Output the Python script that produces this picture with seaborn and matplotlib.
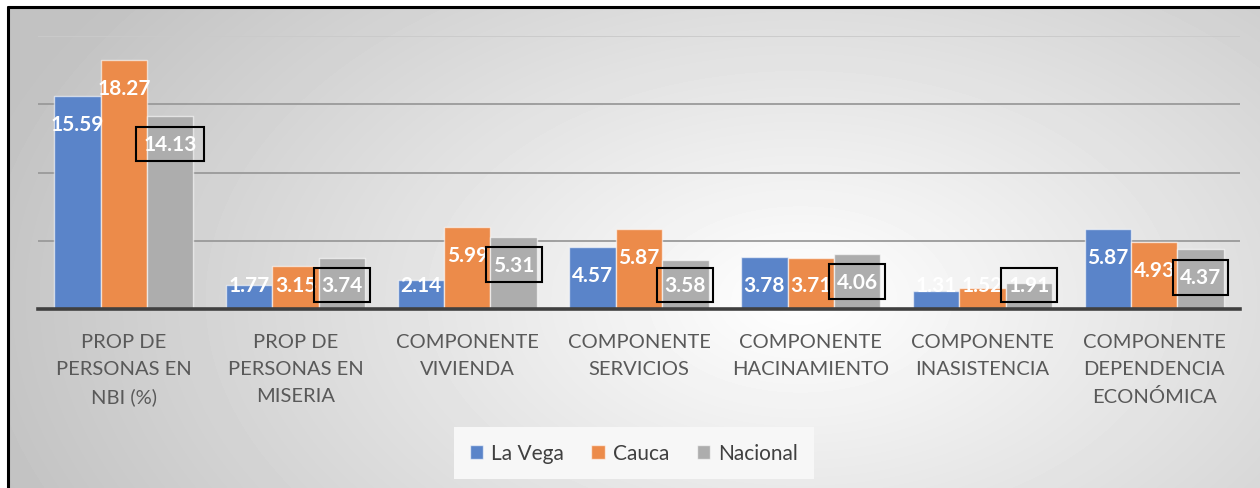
import numpy as np
import pandas as pd
import matplotlib
matplotlib.use("Agg")
import matplotlib.pyplot as plt
import seaborn as sns
from matplotlib.lines import Line2D
from matplotlib.patches import Patch

categories = ["PROP DE\nPERSONAS EN\nNBI (%)", "PROP DE\nPERSONAS EN\nMISERIA",
              "COMPONENTE\nVIVIENDA", "COMPONENTE\nSERVICIOS", "COMPONENTE\nHACINAMIENTO",
              "COMPONENTE\nINASISTENCIA", "COMPONENTE\nDEPENDENCIA\nECONÓMICA"]
la_vega = [15.59, 1.77, 2.14, 4.57, 3.78, 1.31, 5.87]
cauca = [18.27, 3.15, 5.99, 5.87, 3.71, 1.52, 4.93]
nacional = [14.13, 3.74, 5.31, 3.58, 4.06, 1.91, 4.37]
series_names = ["La Vega", "Cauca", "Nacional"]
colors = ["#5A84C9", "#EC8B4A", "#ADADAD"]

sns.set_theme(style="white")
plt.rcParams['font.family'] = ['Lato', 'DejaVu Sans']

W, H = 1260, 489
fig = plt.figure(figsize=(W / 100, H / 100), dpi=100)
fig.patch.set_facecolor('white')

# radial gradient background inside the frame
bg = fig.add_axes([9 / W, 0, 1 - 9 / W, (H - 9) / H], zorder=-10)
yy, xx = np.mgrid[9:H, 9:W]
d = np.sqrt(((xx - 800) / 850.0) ** 2 + ((yy - 300) / 520.0) ** 2)
g = 1 - 0.24 * np.clip(d, 0, 1)
bg.imshow(g, cmap='gray', vmin=0, vmax=1, aspect='auto', interpolation='bilinear')
bg.axis('off')

ax = fig.add_axes([38 / W, 179 / H, 1202 / W, 273 / H])
ax.set_facecolor('none')

df = pd.DataFrame({
    'categoria': categories * 3,
    'serie': np.repeat(series_names, len(categories)),
    'valor': la_vega + cauca + nacional,
})

sns.barplot(data=df, x='categoria', y='valor', hue='serie', hue_order=series_names,
            palette=colors, width=0.81, saturation=1, edgecolor=(1, 1, 1, 0.6),
            linewidth=1, ax=ax, legend=False, errorbar=None)

ax.set_ylim(0, 20)
ax.set_xlim(-0.5, 6.5)
ax.set_yticks([0, 5, 10, 15, 20])
ax.set_yticklabels([])
ax.set_xlabel('')
ax.set_ylabel('')
ax.tick_params(axis='y', length=0)
ax.tick_params(axis='x', length=0, pad=17, labelsize=14.5, labelcolor='#595959')
for lbl in ax.get_xticklabels():
    lbl.set_linespacing(1.72)

for s in ['left', 'right', 'top']:
    ax.spines[s].set_visible(False)
ax.spines['bottom'].set_color('#404040')
ax.spines['bottom'].set_linewidth(2.6)

ax.grid(True, axis='y', color='#9a9a9a', lw=1.3)
ax.set_axisbelow(True)
ax.get_ygridlines()[-1].set_color('#cacaca')

for i, cont in enumerate(ax.containers):
    for bar in cont:
        h = bar.get_height()
        x = bar.get_x() + bar.get_width() / 2
        y = max(h - 2.05, 1.76)
        kw = {}
        if i == 2:
            kw['bbox'] = dict(boxstyle='square,pad=0.35', fc='none', ec='black', lw=1.5)
        ax.text(x, y, f"{h:.2f}", ha='center', va='center', color='white',
                fontsize=15, fontweight='bold', **kw)

handles = [Patch(facecolor=c, edgecolor=(1, 1, 1, 0.6), label=n) for c, n in zip(colors, series_names)]
leg = fig.legend(handles=handles, loc='center', bbox_to_anchor=(634 / W, 1 - 454 / H), ncol=3,
                 frameon=True, facecolor='#f7f7f7', edgecolor='none', framealpha=1,
                 fancybox=False, fontsize=15, handlelength=0.65, handleheight=0.65,
                 columnspacing=1.3, handletextpad=0.4, borderpad=0.75, labelcolor='#404040')

# outer frame lines
fig.add_artist(Line2D([8 / W, 8 / W], [0, 1 - 7.5 / H], color='black', lw=2.2))
fig.add_artist(Line2D([8 / W, 1], [1 - 7.5 / H, 1 - 7.5 / H], color='black', lw=2.2))

fig.savefig('out.png', dpi=100)
